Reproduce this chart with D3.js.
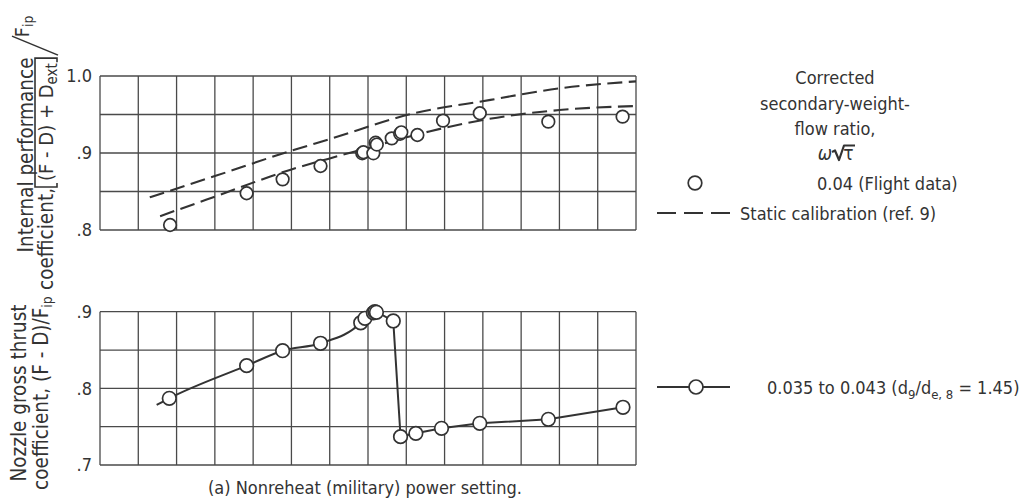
<!DOCTYPE html>
<html>
<head>
<meta charset="utf-8">
<script src="https://cdn.jsdelivr.net/npm/d3@7"></script>
<style>
  html, body { margin: 0; padding: 0; background: #fff; }
  svg { display: block; }
  text { font-family: "DejaVu Sans Condensed", "DejaVu Sans", sans-serif; font-stretch: condensed; fill: #333; }
</style>
</head>
<body>
<svg id="chart" width="1034" height="502"></svg>
<script>
// Grid columns along the (unlabelled) power-setting axis
const columns = 14;
const topTicks = [0.8, 0.9, 1.0];
const bottomTicks = [0.7, 0.8, 0.9];

// Internal performance coefficient, flight data (omega*sqrt(tau) = 0.04)
const flightX = [1.83, 3.83, 4.77, 5.76, 6.85, 6.88, 7.14, 7.20, 7.23, 7.62, 7.84, 7.87, 8.29, 8.96, 9.92, 11.71, 13.65];
const flightY = [0.8065, 0.8477, 0.8658, 0.8831, 0.8996, 0.9010, 0.8996, 0.9134, 0.9110, 0.9190, 0.9250, 0.9269, 0.9234, 0.9420, 0.9516, 0.9407, 0.9472];

// Static calibration (ref. 9), upper and lower bounds
const calHighX = [1.3, 3, 5, 6, 8.2, 10.2, 12, 14];
const calHighY = [0.8425, 0.870, 0.903, 0.918, 0.9515, 0.969, 0.984, 0.993];
const calLowX = [1.57, 3, 4.96, 6, 7, 8.6, 9.9, 12, 14];
const calLowY = [0.818, 0.8433, 0.878, 0.893, 0.9065, 0.928, 0.942, 0.9558, 0.961];

// Nozzle gross thrust coefficient, 0.035 to 0.043
const grossX = [1.81, 3.83, 4.77, 5.76, 6.81, 6.92, 7.14, 7.18, 7.22, 7.66, 7.85, 8.25, 8.92, 9.92, 11.71, 13.66];
const grossY = [0.787, 0.8296, 0.8491, 0.8588, 0.8856, 0.8914, 0.8985, 0.9000, 0.8992, 0.8879, 0.737, 0.7413, 0.7479, 0.7544, 0.7596, 0.7753];
// Start of the faired curve, left of the first point
const fairingStartX = 1.48;
const fairingStartY = 0.7783;

const svg = d3.select("#chart");
const ink = "#333";
const gridInk = "#4a4a4a";

const x = d3.scaleLinear().domain([0, columns]).range([100, 636]);
const yTop = d3.scaleLinear().domain([0.8, 1.0]).range([230, 76]);
const yBot = d3.scaleLinear().domain([0.7, 0.9]).range([465, 311.7]);

function drawGrid(y, lo, hi) {
  const g = svg.append("g").attr("stroke", gridInk).attr("stroke-width", 1.3).attr("fill", "none");
  g.selectAll("line.v").data(d3.range(0, columns + 1)).join("line").attr("class", "v")
    .attr("x1", d => x(d)).attr("x2", d => x(d)).attr("y1", y(lo)).attr("y2", y(hi));
  const rows = d3.range(0, 5).map(i => lo + i * (hi - lo) / 4);
  g.selectAll("line.h").data(rows).join("line").attr("class", "h")
    .attr("x1", x(0)).attr("x2", x(columns)).attr("y1", d => y(d)).attr("y2", d => y(d));
}
drawGrid(yTop, 0.8, 1.0);
drawGrid(yBot, 0.7, 0.9);

const tickFmt = d => d >= 1 ? d3.format(".1f")(d) : d3.format(".1f")(d).replace(/^0/, "");
function drawAxis(y, ticks) {
  svg.append("g").attr("transform", `translate(${x(0)},0)`)
    .call(d3.axisLeft(y).tickValues(ticks).tickSize(0).tickPadding(8).tickFormat(tickFmt))
    .call(g => g.select(".domain").remove())
    .attr("font-size", 18);
}
drawAxis(yTop, topTicks);
drawAxis(yBot, bottomTicks);

// Static calibration curves
const dash = "15,6.5";
[[calHighX, calHighY], [calLowX, calLowY]].forEach(([xs, ys]) => {
  svg.append("path")
    .datum(d3.zip(xs, ys))
    .attr("fill", "none").attr("stroke", ink).attr("stroke-width", 2.1)
    .attr("stroke-dasharray", dash)
    .attr("d", d3.line().x(d => x(d[0])).y(d => yTop(d[1])).curve(d3.curveMonotoneX));
});

// Flight data points
svg.append("g").selectAll("circle").data(d3.zip(flightX, flightY)).join("circle")
  .attr("cx", d => x(d[0])).attr("cy", d => yTop(d[1])).attr("r", 6.3)
  .attr("fill", "#fff").attr("stroke", ink).attr("stroke-width", 1.7);

// Gross thrust: faired curve up to the drop, then straight segments
const grossPts = d3.zip(grossX, grossY);
const dropIdx = grossPts.findIndex((p, i) => i < grossPts.length - 1 && grossPts[i + 1][1] < p[1] - 0.1);
const smoothPart = [[fairingStartX, fairingStartY]].concat(grossPts.slice(0, dropIdx + 1));
const straightPart = grossPts.slice(dropIdx);
svg.append("path").datum(smoothPart)
  .attr("fill", "none").attr("stroke", ink).attr("stroke-width", 2)
  .attr("d", d3.line().x(d => x(d[0])).y(d => yBot(d[1])).curve(d3.curveMonotoneX));
svg.append("path").datum(straightPart)
  .attr("fill", "none").attr("stroke", ink).attr("stroke-width", 2)
  .attr("d", d3.line().x(d => x(d[0])).y(d => yBot(d[1])));
svg.append("g").selectAll("circle").data(grossPts).join("circle")
  .attr("cx", d => x(d[0])).attr("cy", d => yBot(d[1])).attr("r", 6.8)
  .attr("fill", "#fff").attr("stroke", ink).attr("stroke-width", 1.7);

// ---- Axis titles (rotated) ----
const titleSize = 20.5;
const subSize = 14;

// Upper panel title
(function () {
  const cy = 155;
  const g = svg.append("g").attr("transform", `translate(0,${cy}) rotate(-90)`);
  g.append("text").attr("x", 0).attr("y", 33).attr("text-anchor", "middle")
    .attr("font-size", titleSize).text("Internal performance");
  let u = cy - 290;
  const put = (str, v, size) => {
    const el = g.append("text").attr("x", u).attr("y", v).attr("font-size", size).text(str);
    u += el.node().getComputedTextLength();
    return el;
  };
  put("coefficient, ", 53, titleSize);
  const bOpen = u + 1;
  u += 7;
  put("(F - D) + D", 53, 20);
  put("ext", 57, 15);
  u += 5;
  const bClose = u;
  const bk = g.append("path").attr("fill", "none").attr("stroke", ink).attr("stroke-width", 1.6);
  bk.attr("d", `M${bOpen + 4},57 L${bOpen},57 L${bOpen},35 L${bClose},35 L${bClose},57 L${bClose - 4},57`);
  // large solidus and raised divisor
  g.append("line").attr("stroke", ink).attr("stroke-width", 1.6)
    .attr("x1", bClose + 3).attr("y1", 58).attr("x2", bClose + 22).attr("y2", 12);
  u = bClose + 21;
  put("F", 29, titleSize - 1);
  put("ip", 33, subSize);
})();

// Lower panel title
(function () {
  const cy = 393;
  const g = svg.append("g").attr("transform", `translate(0,${cy}) rotate(-90)`);
  g.append("text").attr("x", 0).attr("y", 26).attr("text-anchor", "middle")
    .attr("font-size", titleSize).text("Nozzle gross thrust");
  const t = g.append("text").attr("x", 0).attr("y", 48).attr("text-anchor", "middle")
    .attr("font-size", titleSize);
  t.append("tspan").text("coefficient,  (F - D)/F");
  t.append("tspan").attr("dy", 4).attr("font-size", subSize).text("ip");
})();

// Caption
svg.append("text").attr("x", 365).attr("y", 494).attr("text-anchor", "middle")
  .attr("font-size", 18).text("(a) Nonreheat (military) power setting.");

// ---- Legend ----
const lg = svg.append("g");
["Corrected", "secondary-weight-", "flow ratio,"].forEach((s, i) => {
  lg.append("text").attr("x", 835).attr("y", 84 + i * 25.5).attr("text-anchor", "middle")
    .attr("font-size", 18).text(s);
});
lg.append("text").attr("x", 825).attr("y", 160).attr("text-anchor", "middle")
  .attr("font-size", 19).attr("font-style", "italic").text("ω");
lg.append("path").attr("fill", "none").attr("stroke", ink).attr("stroke-width", 2.2)
  .attr("stroke-linejoin", "round")
  .attr("d", "M832,152 L835,150.5 L839,160 L844,145.5 L855,145.5");
lg.append("text").attr("x", 848.5).attr("y", 160).attr("text-anchor", "middle")
  .attr("font-size", 19).text("τ");

lg.append("circle").attr("cx", 695).attr("cy", 183).attr("r", 6.8)
  .attr("fill", "#fff").attr("stroke", ink).attr("stroke-width", 1.7);
lg.append("text").attr("x", 817).attr("y", 190).attr("font-size", 18).text("0.04 (Flight data)");

lg.append("line").attr("x1", 657).attr("x2", 732).attr("y1", 213).attr("y2", 213)
  .attr("stroke", ink).attr("stroke-width", 2.1).attr("stroke-dasharray", "19,8");
lg.append("text").attr("x", 740).attr("y", 220).attr("font-size", 18).text("Static calibration (ref. 9)");

lg.append("line").attr("x1", 657).attr("x2", 730).attr("y1", 387).attr("y2", 387)
  .attr("stroke", ink).attr("stroke-width", 2);
lg.append("circle").attr("cx", 696).attr("cy", 387).attr("r", 7)
  .attr("fill", "#fff").attr("stroke", ink).attr("stroke-width", 1.7);
const lt = lg.append("text").attr("x", 767).attr("y", 394).attr("font-size", 18);
lt.append("tspan").text("0.035 to 0.043 (d");
lt.append("tspan").attr("dy", 5).attr("font-size", 13).text("9");
lt.append("tspan").attr("dy", -5).text("/d");
lt.append("tspan").attr("dy", 5).attr("font-size", 13).text("e, 8");
lt.append("tspan").attr("dy", -5).text(" = 1.45)");
</script>
</body>
</html>
